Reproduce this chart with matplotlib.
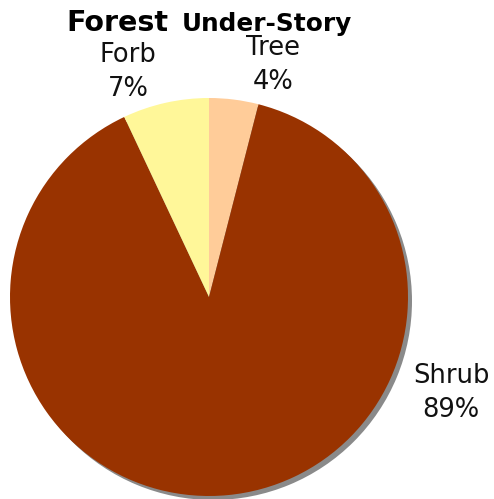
import matplotlib.pyplot as plt

# data
categories = ["Tree", "Shrub", "Forb"]
shares = [4, 89, 7]
colors = ["#FFCC99", "#993300", "#FFF799"]

W, H = 494, 499
fig = plt.figure(figsize=(W / 100, H / 100), dpi=100)
ax = fig.add_axes([0, 0, 1, 1])

cx, cy, r = 209, H - 297, 199

# drop shadow
ax.pie([1], colors=["#8a8a8a"], center=(cx + 4, cy - 4), radius=r,
       wedgeprops=dict(linewidth=0), frame=True)
ax.pie(shares, colors=colors, startangle=90, counterclock=False,
       center=(cx, cy), radius=r, wedgeprops=dict(linewidth=0), frame=True)
ax.set_xlim(0, W)
ax.set_ylim(0, H)
ax.set_aspect("auto")
ax.axis("off")

# labels placed like the original
label_pos = {"Tree": (273, 65), "Shrub": (451, 393), "Forb": (128, 72)}
for name, val in zip(categories, shares):
    x, y = label_pos[name]
    ax.text(x, H - y, f"{name}\n{val}%", ha="center", va="center",
            multialignment="center", fontsize=18.5, linespacing=1.42,
            color="#111111")

# title in two sizes
ax.text(66, H - 31, "Forest", fontsize=20.5, fontweight="bold", ha="left",
        va="baseline")
ax.text(182, H - 31, "Under-Story", fontsize=17.8, fontweight="bold",
        ha="left", va="baseline")

fig.savefig("out.png", dpi=100)
